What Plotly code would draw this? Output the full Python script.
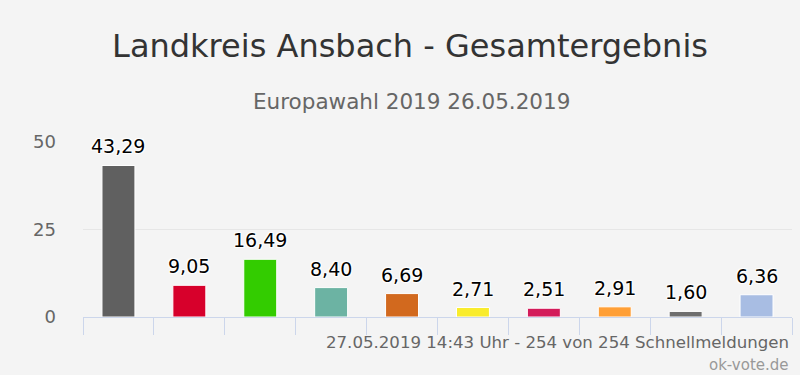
import plotly.graph_objects as go

# Data
categories = ["P1", "P2", "P3", "P4", "P5", "P6", "P7", "P8", "P9", "P10"]
values = [43.29, 9.05, 16.49, 8.40, 6.69, 2.71, 2.51, 2.91, 1.60, 6.36]
bar_colors = ["#606060", "#d7002b", "#33cc00", "#6cb3a3", "#d2691e",
              "#f9ec2c", "#d31b5a", "#ff9f36", "#6e6e6e", "#a8bde3"]
y_ticks = [0, 25, 50]

title_text = "Landkreis Ansbach - Gesamtergebnis"
subtitle_text = "Europawahl 2019 26.05.2019"
status_text = "27.05.2019 14:43 Uhr - 254 von 254 Schnellmeldungen"
credit_text = "ok-vote.de"

BG = "#f4f4f4"
FONT = "DejaVu Sans"
W, H = 800, 375
ML, MR, MT, MB = 83, 8, 142, 58
PW, PH = W - ML - MR, H - MT - MB


def px_x(x):
    return (x - ML) / PW


def px_y(y):
    return (H - MB - y) / PH


fig = go.Figure()
fig.add_trace(go.Bar(
    x=categories, y=values,
    marker=dict(color=bar_colors, line=dict(color="#ffffff", width=1)),
    hoverinfo="skip",
))

annotations = []
for c, v in zip(categories, values):
    annotations.append(dict(
        x=c, y=v, xref="x", yref="y", text=f"{v:.2f}".replace(".", ","),
        showarrow=False, yanchor="bottom", xanchor="center", yshift=6,
        font=dict(family=FONT, size=19, color="#000000",
                  shadow="1px 1px 1px #fff, -1px -1px 1px #fff, 1px -1px 1px #fff, -1px 1px 1px #fff"),
    ))

annotations.append(dict(
    x=px_x(411), y=px_y(101), xref="paper", yref="paper", text=subtitle_text,
    showarrow=False, xanchor="center", yanchor="middle",
    font=dict(family=FONT, size=21.5, color="#666666"),
))
annotations.append(dict(
    x=px_x(W - 9), y=px_y(342), xref="paper", yref="paper", text=status_text,
    showarrow=False, xanchor="right", yanchor="middle",
    font=dict(family=FONT, size=16.6, color="#666666"),
))
annotations.append(dict(
    x=px_x(W - 9), y=px_y(365), xref="paper", yref="paper", text=credit_text,
    showarrow=False, xanchor="right", yanchor="middle",
    font=dict(family=FONT, size=15, color="#999999"),
))

fig.update_layout(
    width=W, height=H,
    margin=dict(l=ML, r=MR, t=MT, b=MB, pad=0),
    paper_bgcolor=BG, plot_bgcolor=BG,
    showlegend=False,
    bargap=0.535,
    title=dict(text=title_text, x=410 / W, xanchor="center", y=1 - 46 / H, yanchor="middle",
               yref="container", font=dict(family=FONT, size=32, color="#333333")),
    annotations=annotations,
    xaxis=dict(type="category", showticklabels=False, ticks="outside", tickson="boundaries",
               ticklen=17, tickcolor="#ccd6eb", tickwidth=1, showline=True,
               linecolor="#ccd6eb", linewidth=1, showgrid=False, fixedrange=True),
    yaxis=dict(range=[0, 50], tickvals=y_ticks, showgrid=True, gridcolor="#e6e6e6",
               zeroline=False, showline=False, ticks="", ticklabelstandoff=26,
               tickfont=dict(family=FONT, size=18, color="#666666"), fixedrange=True),
)

fig.write_html(
    "out.html",
    config={"displayModeBar": False},
    post_script="document.body.style.margin='0';document.body.style.background='#f4f4f4';"
                "document.body.style.overflow='hidden';",
)
